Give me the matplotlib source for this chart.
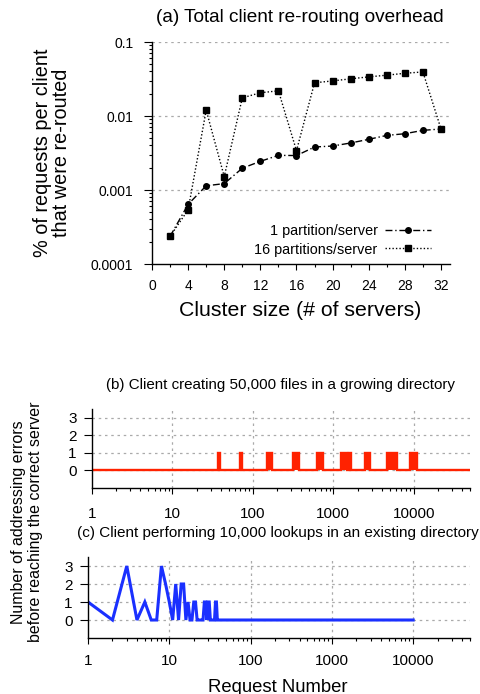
import matplotlib
matplotlib.use("Agg")
import matplotlib.pyplot as plt
from matplotlib.ticker import FixedLocator, NullFormatter, LogLocator, FuncFormatter

plt.rcParams['font.family'] = ['Liberation Sans', 'DejaVu Sans']

# (a) re-routing overhead
cluster_size = [2, 4, 6, 8, 10, 12, 14, 16, 18, 20, 22, 24, 26, 28, 30, 32]
one_part = [0.000236, 0.00064, 0.00114, 0.00122, 0.00197, 0.00244, 0.00294, 0.00292,
            0.00381, 0.00393, 0.00432, 0.00484, 0.00547, 0.00576, 0.0064, 0.00667]
sixteen_part = [0.000236, 0.00054, 0.012, 0.00152, 0.0176, 0.0206, 0.0219, 0.0034,
                0.0281, 0.0298, 0.0318, 0.0338, 0.0356, 0.0378, 0.0394, 0.0067]

# (b) creates: runs of requests where the client hit one addressing error
create_total = 50000
spike_lo = [37, 69, 151, 318, 631, 1240, 1550, 2450, 4650, 8900]
spike_hi = [39, 74, 174, 376, 750, 1480, 1650, 2830, 6200, 11000]

# (c) lookups
lookup_req = list(range(1, 41)) + [10000]
lookup_err = [1, 0, 3, 0, 1, 0, 0, 3, 2, 1,
              0, 2, 0, 2, 2, 0, 1, 0, 0, 1,
              1, 0, 0, 0, 0, 0, 1, 1, 0, 1,
              1, 0, 0, 0, 0, 0, 1, 1, 0, 0,
              0]

W, H = 481, 694
fig = plt.figure(figsize=(W / 100, H / 100), dpi=100)


def rect(left, top, right, bottom):
    return [left / W, 1 - bottom / H, (right - left) / W, (bottom - top) / H]


def ftext(x, y, s, **kw):
    fig.text(x / W, 1 - y / H, s, ha='center', va='center', **kw)


grid_kw = dict(color='#aaaaaa', linestyle=(0, (2, 3)), linewidth=0.9)


def style_axes(ax):
    ax.spines['top'].set_visible(False)
    ax.spines['right'].set_visible(False)
    ax.spines['left'].set_linewidth(1)
    ax.spines['bottom'].set_linewidth(1)
    ax.tick_params(which='both', direction='out', width=0.8)
    ax.tick_params(which='minor', length=2.5)


# ---- panel (a)
ax = fig.add_axes(rect(152, 42, 450, 264))
ax.plot(cluster_size, one_part, color='black', lw=1, linestyle=(0, (5, 2, 1, 2)),
        marker='o', markersize=4, label='1 partition/server')
ax.plot(cluster_size, sixteen_part, color='black', lw=1, linestyle=(0, (1, 1.5)),
        marker='s', markersize=4.5, label='16 partitions/server')
ax.set_yscale('log')
ax.set_ylim(0.0001, 0.1)
ax.set_xlim(0, 33)
ax.set_yticks([0.0001, 0.001, 0.01, 0.1])
ax.set_yticklabels(['0.0001', '0.001', '0.01', '0.1'])
ax.yaxis.set_minor_locator(LogLocator(base=10, subs=range(2, 10)))
ax.yaxis.set_minor_formatter(NullFormatter())
ax.set_xticks(range(0, 33, 4))
ax.xaxis.set_minor_locator(FixedLocator(range(2, 33, 4)))
for yv in [0.001, 0.01, 0.1]:
    ax.axhline(yv, zorder=0, **grid_kw)
style_axes(ax)
ax.tick_params(labelsize=10)
ax.tick_params(axis='y', which='major', length=5.5, pad=8)
ax.tick_params(axis='x', which='major', length=4, pad=7)
ax.legend(loc='lower right', bbox_to_anchor=(0.98, -0.025), frameon=False, markerfirst=False,
          fontsize=10.4, handlelength=3.2, handletextpad=0.5, labelspacing=0.3)

ftext(300, 18, '(a) Total client re-routing overhead', fontsize=13.7)
ftext(300, 310, 'Cluster size (# of servers)', fontsize=15.3)
ftext(52, 153, '% of requests per client\nthat were re-routed', fontsize=14.3,
      rotation=90, linespacing=1.0)

# ---- panel (b)
bx = fig.add_axes(rect(92, 409, 470, 488))
xs, ys = [1], [0]
for lo, hi in zip(spike_lo, spike_hi):
    xs += [lo, lo, hi, hi]
    ys += [0, 1, 1, 0]
    bx.fill_between([lo, hi], 0, 1, color='#ff2200', lw=0)
xs.append(create_total)
ys.append(0)
bx.plot(xs, ys, color='#ff2200', lw=1.7, solid_joinstyle='miter')

# ---- panel (c)
cx = fig.add_axes(rect(88, 557, 470, 638))
cx.plot(lookup_req, lookup_err, color='#1a30ff', lw=2.2, solid_joinstyle='miter')

for a, xpad in ((bx, 9), (cx, 7)):
    a.set_xscale('log')
    a.set_xlim(1, 50000)
    a.set_ylim(-1, 3.5)
    a.set_yticks([0, 1, 2, 3])
    a.set_xticks([1, 10, 100, 1000, 10000])
    a.xaxis.set_major_formatter(FuncFormatter(lambda v, p: '%d' % v))
    a.xaxis.set_minor_locator(LogLocator(base=10, subs=range(2, 10)))
    a.xaxis.set_minor_formatter(NullFormatter())
    for yv in [0, 1, 2, 3]:
        a.axhline(yv, zorder=0, **grid_kw)
    for xv in [10, 100, 1000, 10000]:
        a.axvline(xv, zorder=0, **grid_kw)
    style_axes(a)
    a.tick_params(labelsize=11)
    a.tick_params(axis='y', which='major', length=6, pad=5)
    a.tick_params(axis='x', which='major', length=4.5, pad=xpad)

ftext(280, 385, '(b) Client creating 50,000 files in a growing directory', fontsize=10.9)
ftext(278, 533, '(c) Client performing 10,000 lookups in an existing directory', fontsize=11)
ftext(278, 687, 'Request Number', fontsize=13.3)
ftext(27, 522, 'Number of addressing errors\nbefore reaching the correct server',
      fontsize=11.5, rotation=90, linespacing=1.15)

fig.savefig('out.png', dpi=100)
